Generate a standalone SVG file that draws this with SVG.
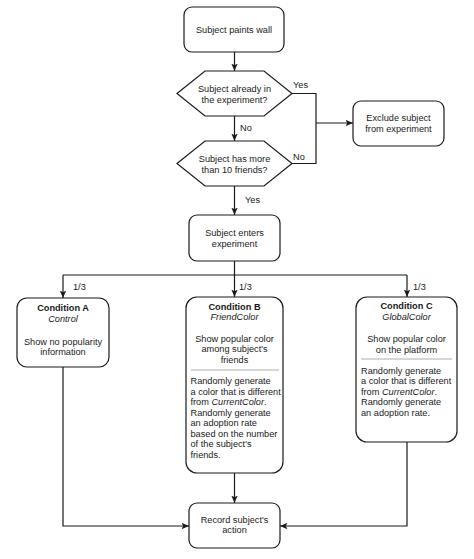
<svg xmlns="http://www.w3.org/2000/svg" width="474" height="559" viewBox="0 0 474 559">
<style>
  .box { fill: #ffffff; stroke: #1a1a1a; stroke-width: 1.2; }
  .sep { stroke: #c8c8c8; stroke-width: 1.5; }
  .conn { fill: none; stroke: #1a1a1a; stroke-width: 1.2; }
  text { font-family: "Liberation Sans", Arial, Helvetica, sans-serif; font-size: 9.2px; fill: #1a1a1a; }
  .c { text-anchor: middle; }
  .b { font-weight: bold; }
  .i { font-style: italic; }
</style>
<defs>
  <marker id="arrow" viewBox="0 0 8 8" refX="7.5" refY="4" markerWidth="8" markerHeight="8" markerUnits="userSpaceOnUse" orient="auto">
    <path d="M0,0.8 L7.5,4 L0,7.2 L1.8,4 Z" fill="#1a1a1a"/>
  </marker>
</defs>
<rect width="474" height="559" fill="#ffffff"/>

<g id="connectors">
  <path class="conn" d="M234.5,52 V71" marker-end="url(#arrow)"/>
  <path class="conn" d="M234.5,116 V141" marker-end="url(#arrow)"/>
  <path class="conn" d="M292,93.5 H316 V163.5 H292"/>
  <path class="conn" d="M316,123 H353" marker-end="url(#arrow)"/>
  <path class="conn" d="M234.5,186 V215" marker-end="url(#arrow)"/>
  <path class="conn" d="M234.5,261 V297" marker-end="url(#arrow)"/>
  <path class="conn" d="M63,275 H407"/>
  <path class="conn" d="M63,275 V298" marker-end="url(#arrow)"/>
  <path class="conn" d="M407,275 V297" marker-end="url(#arrow)"/>
  <path class="conn" d="M63,367 V526 H189" marker-end="url(#arrow)"/>
  <path class="conn" d="M234.5,473 V503" marker-end="url(#arrow)"/>
  <path class="conn" d="M407,442 V526 H280" marker-end="url(#arrow)"/>
  <text x="293" y="88">Yes</text>
  <text x="240" y="130.5">No</text>
  <text x="293" y="160">No</text>
  <text x="245" y="203">Yes</text>
  <text x="73" y="290">1/3</text>
  <text x="239" y="290">1/3</text>
  <text x="413" y="290">1/3</text>
</g>

<g id="paints">
  <rect class="box" x="184" y="7" width="100" height="45" rx="8"/>
  <text class="c" x="234" y="33">Subject paints wall</text>
</g>

<g id="already">
  <polygon class="box" points="177,93.5 205,71 264,71 292,93.5 264,116 205,116"/>
  <text class="c" x="234.5" y="91.5">Subject already in</text>
  <text class="c" x="234.5" y="102.5">the experiment?</text>
</g>

<g id="friends10">
  <polygon class="box" points="177,163.5 205,141 264,141 292,163.5 264,186 205,186"/>
  <text class="c" x="234.5" y="161.5">Subject has more</text>
  <text class="c" x="234.5" y="172.5">than 10 friends?</text>
</g>

<g id="exclude">
  <rect class="box" x="353" y="101" width="91" height="45" rx="8"/>
  <text class="c" x="398.5" y="120.5">Exclude subject</text>
  <text class="c" x="398.5" y="131.5">from experiment</text>
</g>

<g id="enters">
  <rect class="box" x="189" y="215" width="91" height="46" rx="8"/>
  <text class="c" x="234.5" y="235.5">Subject enters</text>
  <text class="c" x="234.5" y="246.5">experiment</text>
</g>

<g id="condA">
  <rect class="box" x="17" y="298" width="92" height="69" rx="10"/>
  <text class="c b" x="63" y="311">Condition A</text>
  <text class="c i" x="63" y="321.5">Control</text>
  <text class="c" x="63" y="344.5">Show no popularity</text>
  <text class="c" x="63" y="355">information</text>
</g>

<g id="condB">
  <rect class="box" x="186" y="297" width="97" height="176" rx="11"/>
  <text class="c b" x="234.5" y="309.5">Condition B</text>
  <text class="c i" x="234.5" y="320">FriendColor</text>
  <text class="c" x="234.5" y="341.5">Show popular color</text>
  <text class="c" x="234.5" y="352">among subject's</text>
  <text class="c" x="234.5" y="362.5">friends</text>
  <line class="sep" x1="191" y1="370" x2="279" y2="370"/>
  <text x="190.5" y="384">Randomly generate</text>
  <text x="190.5" y="394.5">a color that is different</text>
  <text x="190.5" y="405">from <tspan class="i">CurrentColor</tspan>.</text>
  <text x="190.5" y="415.5">Randomly generate</text>
  <text x="190.5" y="426">an adoption rate</text>
  <text x="190.5" y="436.5">based on the number</text>
  <text x="190.5" y="447">of the subject's</text>
  <text x="190.5" y="457.5">friends.</text>
</g>

<g id="condC">
  <rect class="box" x="356" y="297" width="101" height="145" rx="11"/>
  <text class="c b" x="406.5" y="308.5">Condition C</text>
  <text class="c i" x="406.5" y="319.5">GlobalColor</text>
  <text class="c" x="406.5" y="341.5">Show popular color</text>
  <text class="c" x="406.5" y="352.5">on the platform</text>
  <line class="sep" x1="361" y1="359" x2="452" y2="359"/>
  <text x="361" y="373.5">Randomly generate</text>
  <text x="361" y="384">a color that is different</text>
  <text x="361" y="394.5">from <tspan class="i">CurrentColor</tspan>.</text>
  <text x="361" y="405">Randomly generate</text>
  <text x="361" y="415.5">an adoption rate.</text>
</g>

<g id="record">
  <rect class="box" x="189" y="503" width="91" height="45" rx="8"/>
  <text class="c" x="234.5" y="522.5">Record subject's</text>
  <text class="c" x="234.5" y="533">action</text>
</g>
</svg>
